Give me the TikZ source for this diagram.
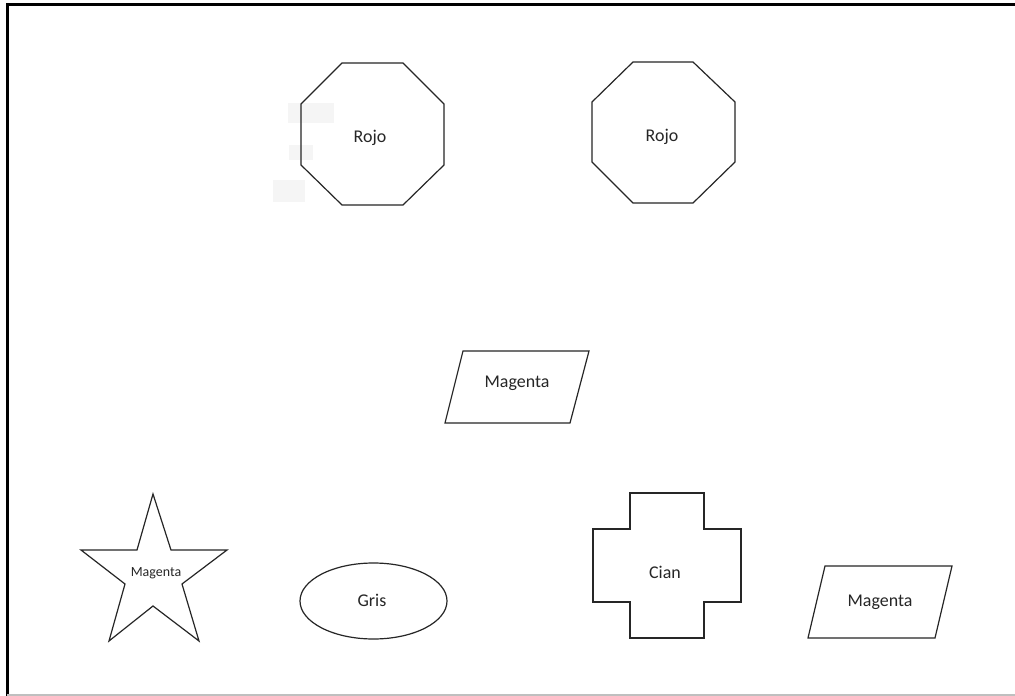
\documentclass[tikz,border=0pt]{standalone}
\usepackage{fontspec}
\setmainfont{Carlito}
\begin{document}
\begin{tikzpicture}[x=1bp,y=-1bp,
  shp/.style={draw=black!85,line width=1.2bp,line join=miter},
  lbl/.style={font=\fontsize{18}{21}\selectfont,text=black!85,inner sep=0pt},
  slbl/.style={font=\fontsize{14}{16}\selectfont,text=black!85,inner sep=0pt},
  patch/.style={fill=black!4,draw=none}]
\useasboundingbox (0,0) rectangle (1015,696);
\fill[white] (-10,-10) rectangle (1025,706);
% frame
\draw[line width=3bp] (6,5) -- (1020,5);
\draw[line width=3bp] (7.5,3.5) -- (7.5,700);
\draw[black!25,line width=2bp] (7,694.5) -- (1020,694.5);
% faint patches
\fill[patch] (288,103) rectangle (334,123);
\fill[patch] (289,145) rectangle (313,160);
\fill[patch] (273,180) rectangle (305,202);
% octagon 1
\draw[shp] (342,63) -- (403,63) -- (444,104) -- (444,165) -- (403,205) -- (342,205) -- (301,165) -- (301,104) -- cycle;
\node[lbl] (r1) at (370,138) {Rojo};
% octagon 2
\draw[shp] (633,62) -- (693,62) -- (735,102) -- (735,162) -- (693,203) -- (633,203) -- (592,162) -- (592,102) -- cycle;
\node[lbl] (r2) at (662,137) {Rojo};
% parallelogram 1
\draw[shp] (463,351) -- (589,351) -- (570,423) -- (445,423) -- cycle;
\node[lbl] (m1) at (517,383) {Magenta};
% star
\draw[shp] (153,494) -- (171,550) -- (227,550) -- (182,584) -- (199,641) -- (153,606) -- (109,641) -- (125,584) -- (81,550) -- (137,550) -- cycle;
\node[slbl] (m2) at (156,573) {Magenta};
% ellipse
\draw[shp] (373.5,601) ellipse [x radius=73.5,y radius=38];
\node[lbl] (g) at (372,600) {Gris};
% cross
\draw[shp] (630,493) -- (704,493) -- (704,529) -- (741,529) -- (741,602) -- (704,602) -- (704,638) -- (630,638) -- (630,602) -- (593,602) -- (593,529) -- (630,529) -- cycle;
\node[lbl] (c) at (665,572) {Cian};
% parallelogram 2
\draw[shp] (825,566) -- (952,566) -- (935,638) -- (808,638) -- cycle;
\node[lbl] (m3) at (880,602) {Magenta};
\end{tikzpicture}
\end{document}
